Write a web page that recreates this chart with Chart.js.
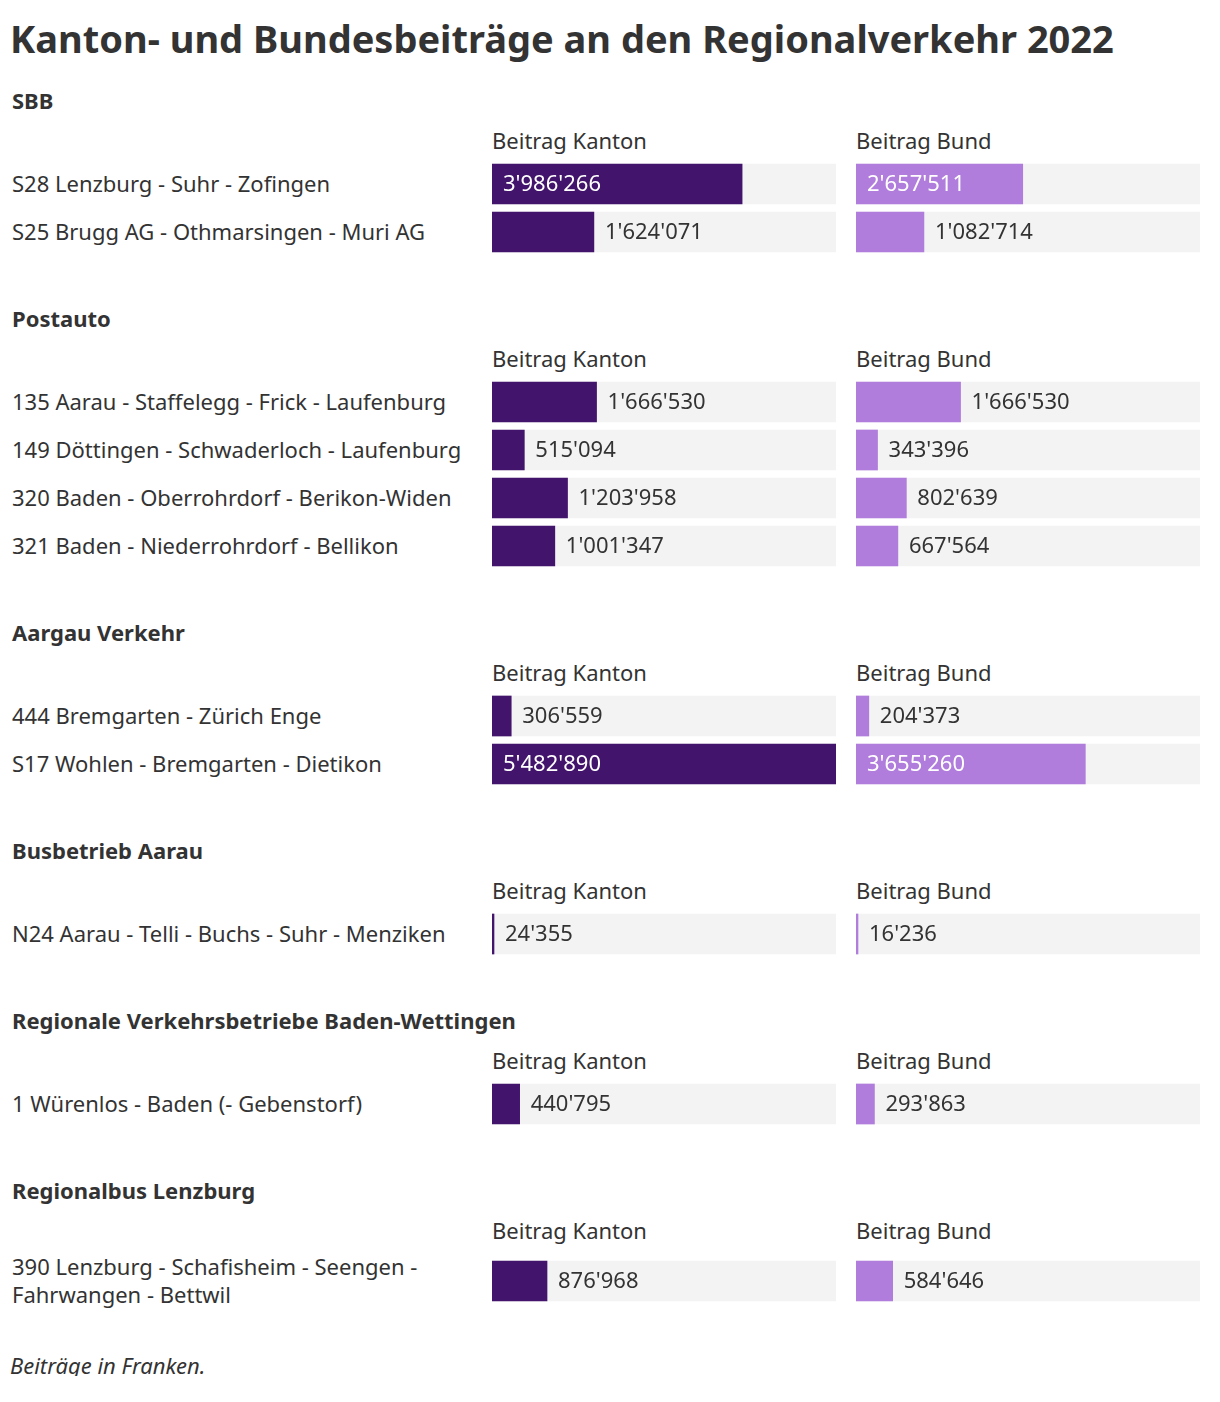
<!DOCTYPE html>
<html lang="de">
<head>
<meta charset="utf-8">
<title>Kanton- und Bundesbeiträge an den Regionalverkehr 2022</title>
<script src="https://cdn.jsdelivr.net/npm/chart.js@4.4.1/dist/chart.umd.min.js"></script>
<style>
  body { margin: 0; background: #fff; color: #333; font-family: "Noto Sans", sans-serif; width: 1220px; }
  #titel { height: 80px; line-height: 76px; padding-left: 10px; font-size: 38px; font-weight: 700; white-space: nowrap; }
  .gruppe { margin-bottom: 42px; }
  .kopf { height: 40px; line-height: 40px; padding-left: 12px; font-size: 22px; font-weight: 700; }
  .spalten { height: 40px; position: relative; font-size: 22px; line-height: 40px; }
  .spalten span { position: absolute; top: 0; }
  .zeilen { position: relative; }
  .zeile { padding: 4px 0; min-height: 40px; display: flex; align-items: center; }
  .zeile span { width: 468px; padding-left: 12px; font-size: 22px; line-height: 28px; margin-top: -2px; }
  .balken { position: absolute; top: 0; width: 344px; }
  #fussnote { padding-left: 10px; font-size: 22px; line-height: 22px; font-style: italic; }
</style>
</head>
<body>
<div id="titel">Kanton- und Bundesbeiträge an den Regionalverkehr 2022</div>
<div id="gruppen"></div>
<div id="fussnote">Beiträge in Franken.</div>
<script>
const gruppen = [
  "SBB",
  "Postauto",
  "Aargau Verkehr",
  "Busbetrieb Aarau",
  "Regionale Verkehrsbetriebe Baden-Wettingen",
  "Regionalbus Lenzburg",
];

const linien = [
  "S28 Lenzburg - Suhr - Zofingen",
  "S25 Brugg AG - Othmarsingen - Muri AG",
  "135 Aarau - Staffelegg - Frick - Laufenburg",
  "149 Döttingen - Schwaderloch - Laufenburg",
  "320 Baden - Oberrohrdorf - Berikon-Widen",
  "321 Baden - Niederrohrdorf - Bellikon",
  "444 Bremgarten - Zürich Enge",
  "S17 Wohlen - Bremgarten - Dietikon",
  "N24 Aarau - Telli - Buchs - Suhr - Menziken",
  "1 Würenlos - Baden (- Gebenstorf)",
  "390 Lenzburg - Schafisheim - Seengen - Fahrwangen - Bettwil",
];

const gruppeDerLinie = [0, 0, 1, 1, 1, 1, 2, 2, 3, 4, 5];

const beitragKanton = [3986266, 1624071, 1666530, 515094, 1203958, 1001347, 306559, 5482890, 24355, 440795, 876968];
const beitragBund = [2657511, 1082714, 1666530, 343396, 802639, 667564, 204373, 3655260, 16236, 293863, 584646];

const spaltenTitel = ["Beitrag Kanton", "Beitrag Bund"];

const FARBE_KANTON = "#42146c";
const FARBE_BUND = "#b07ddc";
const FARBE_SPUR = "#f3f3f3";
const MAXIMUM = Math.max(...beitragKanton, ...beitragBund);

const formatFranken = (wert) => String(wert).replace(/\B(?=(\d{3})+(?!\d))/g, "'");

const wertBeschriftung = {
  id: "wertBeschriftung",
  afterDatasetsDraw: (chart) => {
    const ctx = chart.ctx;
    const meta = chart.getDatasetMeta(0);
    const werte = chart.data.datasets[0].data;
    ctx.save();
    ctx.font = '22px "Noto Sans"';
    ctx.textBaseline = "middle";
    ctx.textAlign = "left";
    meta.data.forEach((bar, i) => {
      const innen = werte[i] / MAXIMUM > 0.4;
      ctx.fillStyle = innen ? "#ffffff" : "#333333";
      const x = innen ? bar.base + 11 : Math.max(bar.x, bar.base) + 11;
      ctx.fillText(formatFranken(werte[i]), x, bar.y + 1);
    });
    ctx.restore();
  },
};

const zeichneBalken = (canvas, labels, werte, farbe) => {
  new Chart(canvas, {
    type: "bar",
    data: {
      labels: labels,
      datasets: [
        {
          data: werte,
          backgroundColor: farbe,
          grouped: false,
          order: 1,
          barThickness: 40,
          minBarLength: 2,
        },
        {
          data: werte.map(() => MAXIMUM),
          backgroundColor: FARBE_SPUR,
          grouped: false,
          order: 2,
          barThickness: 40,
        },
      ],
    },
    options: {
      indexAxis: "y",
      responsive: true,
      maintainAspectRatio: false,
      animation: false,
      layout: { padding: 0 },
      plugins: {
        legend: { display: false },
        tooltip: { enabled: false },
      },
      scales: {
        x: { display: false, min: 0, max: MAXIMUM },
        y: { display: false },
      },
    },
    plugins: [wertBeschriftung],
  });
};

const container = document.getElementById("gruppen");

gruppen.forEach((gruppe, g) => {
  const indizes = linien.map((_, i) => i).filter((i) => gruppeDerLinie[i] === g);

  const div = document.createElement("div");
  div.className = "gruppe";
  div.innerHTML = `
    <div class="kopf">${gruppe}</div>
    <div class="spalten">
      <span style="left:492px">${spaltenTitel[0]}</span>
      <span style="left:856px">${spaltenTitel[1]}</span>
    </div>
    <div class="zeilen">
      ${indizes.map((i) => `<div class="zeile"><span>${linien[i]}</span></div>`).join("")}
    </div>`;
  container.appendChild(div);

  const zeilen = div.querySelector(".zeilen");
  const hoehe = zeilen.offsetHeight;

  [
    { links: 492, werte: beitragKanton, farbe: FARBE_KANTON },
    { links: 856, werte: beitragBund, farbe: FARBE_BUND },
  ].forEach((spalte) => {
    const wrap = document.createElement("div");
    wrap.className = "balken";
    wrap.style.left = spalte.links + "px";
    wrap.style.height = hoehe + "px";
    const canvas = document.createElement("canvas");
    wrap.appendChild(canvas);
    zeilen.appendChild(wrap);
    zeichneBalken(
      canvas,
      indizes.map((i) => linien[i]),
      indizes.map((i) => spalte.werte[i]),
      spalte.farbe
    );
  });
});
</script>
</body>
</html>
